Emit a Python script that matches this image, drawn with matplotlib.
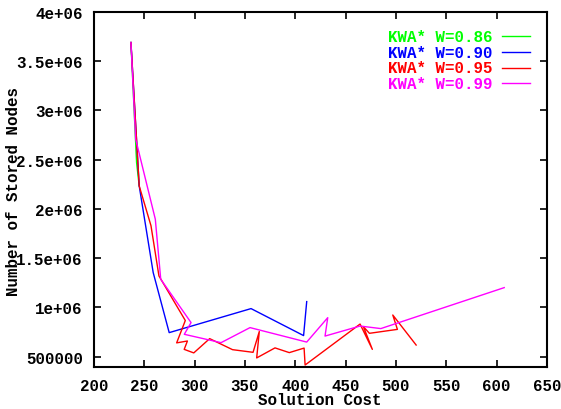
import matplotlib
matplotlib.use("Agg")
import matplotlib.pyplot as plt
from matplotlib.lines import Line2D

plt.rcParams['font.family'] = ['Liberation Mono', 'DejaVu Sans Mono']
plt.rcParams['font.weight'] = 'bold'

# Data
green_x = [236.7, 242.3, 244.9]
green_y = [3.69e6, 2.472e6, 2.234e6]

blue_x = [236.7, 244.9, 258.8, 274.7, 356.0, 408.2, 411.3]
blue_y = [3.69e6, 2.234e6, 1.354e6, 744000, 988000, 714000, 1.059e6]

red_x = [236.7, 244.9, 256.6, 264.5, 290.7, 282.1, 292.8, 289.6, 299.1, 314.9,
         337.6, 358.0, 364.2, 361.6, 379.8, 394.0, 408.7, 409.7, 464.3, 476.5,
         467.6, 473.6, 501.4, 496.8, 520.0]
red_y = [3.69e6, 2.234e6, 1.83e6, 1.32e6, 867000, 640000, 659000, 574000, 538000, 683000,
         571000, 544000, 755000, 487000, 589000, 541000, 587000, 415000, 831000, 574000,
         805000, 737000, 777000, 923000, 618000]

mag_x = [236.7, 241.4, 260.9, 266.3, 296.4, 289.7, 326.2, 355.0, 411.3, 432.2,
         429.5, 464.3, 484.9, 607.5]
mag_y = [3.69e6, 2.709e6, 1.896e6, 1.286e6, 846000, 727000, 642000, 795000, 648000, 896000,
         709000, 811000, 785000, 1.201e6]

labels = ["KWA* W=0.86", "KWA* W=0.90", "KWA* W=0.95", "KWA* W=0.99"]
colors = ["#00ff00", "#0000ff", "#ff0000", "#ff00ff"]

xticks = [200, 250, 300, 350, 400, 450, 500, 550, 600, 650]
yticks = [500000, 1000000, 1500000, 2000000, 2500000, 3000000, 3500000, 4000000]
ytick_labels = ["500000", "1e+06", "1.5e+06", "2e+06", "2.5e+06", "3e+06", "3.5e+06", "4e+06"]

W, H = 561, 410
fig = plt.figure(figsize=(W / 100, H / 100), dpi=100)
ax = fig.add_axes([94 / W, 1 - 367.5 / H, (547 - 94) / W, (367.5 - 13) / H])

series = [(green_x, green_y), (blue_x, blue_y), (red_x, red_y), (mag_x, mag_y)]
for (xs, ys), c in zip(series, colors):
    ax.plot(xs, ys, color=c, lw=1.0)

ax.set_xlim(200, 650)
ax.set_ylim(400000, 4000000)
ax.set_xticks(xticks)
ax.set_xticklabels([str(t) for t in xticks])
ax.set_yticks(yticks)
ax.set_yticklabels(ytick_labels)
fs = 11.4
ax.tick_params(direction='in', length=5, width=1.2, top=True, right=True,
               labelsize=fs, pad=8)
for s in ax.spines.values():
    s.set_linewidth(1.5)

fig.text(320 / W, 1 - 401 / H, "Solution Cost", ha='center', va='center',
         fontsize=fs, fontweight='bold')
fig.text(14 / W, 1 - 192 / H, "Number of Stored Nodes", ha='center', va='center',
         rotation=90, fontsize=fs, fontweight='bold')

# Legend (gnuplot style: text then line sample)
rows = [37.3, 53.0, 68.5, 84.3]
for lab, c, yy in zip(labels, colors, rows):
    fig.text(493 / W, 1 - yy / H, lab, ha='right', va='center', color=c,
             fontsize=fs, fontweight='bold')
    fig.add_artist(Line2D([502 / W, 530 / W], [1 - yy / H, 1 - yy / H],
                          color=c, lw=1.0, transform=fig.transFigure))

fig.savefig("out.png", dpi=100)
